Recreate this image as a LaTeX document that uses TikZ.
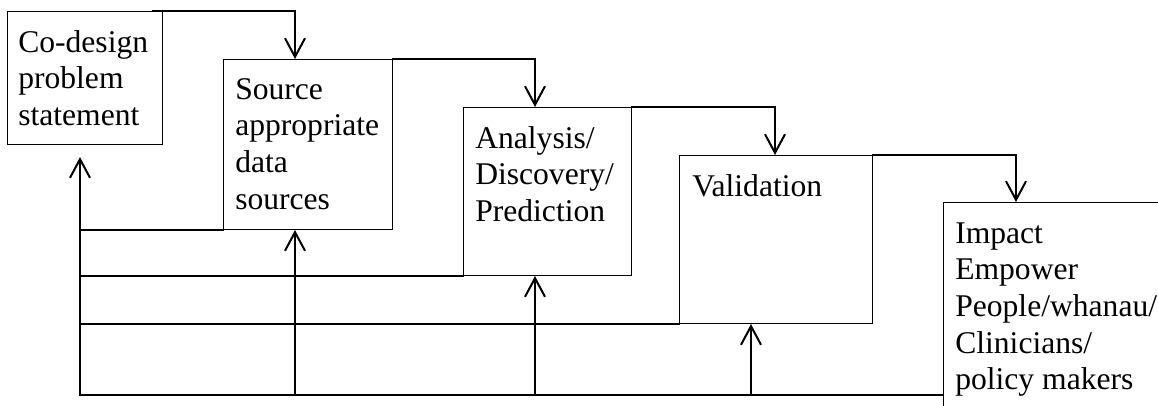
\documentclass[tikz,border=0pt]{standalone}
\usepackage{fontspec}
\setmainfont{Liberation Serif}
\usetikzlibrary{arrows.meta,calc}
\begin{document}
\begin{tikzpicture}[x=0.75pt,y=-0.75pt,
  stage/.style={draw=black,line width=0.75pt,inner sep=0pt,anchor=north west},
  label/.style={inner sep=0pt,anchor=base west,font=\fontsize{23.7}{27.5}\selectfont},
  conn/.style={line width=1.7pt,line cap=rect},
  arr/.style={conn,-{Straight Barb[length=14pt,width=15pt,line width=1.5pt]}}]
\useasboundingbox (0,0) rectangle (1158,405);
\clip (0,0) rectangle (1158,405);
% boxes
\node[stage,minimum width=155*0.75pt,minimum height=133*0.75pt] (b1) at (7,11) {};
\node[stage,minimum width=169*0.75pt,minimum height=170*0.75pt] (b2) at (223,59) {};
\node[stage,minimum width=168*0.75pt,minimum height=168*0.75pt] (b3) at (463,107) {};
\node[stage,minimum width=193*0.75pt,minimum height=168*0.75pt] (b4) at (679,155) {};
\node[stage,minimum width=260*0.75pt,minimum height=250*0.75pt] (b5) at (943,202) {};
% texts
\node[label] (t1) at (18,52) {\begin{tabular}[t]{@{}l@{}}Co-design\\problem\\statement\end{tabular}};
\node[label] (t2) at (235,99) {\begin{tabular}[t]{@{}l@{}}Source\\appropriate\\data\\sources\end{tabular}};
\node[label] (t3) at (475,148) {\begin{tabular}[t]{@{}l@{}}Analysis/\\Discovery/\\Prediction\end{tabular}};
\node[label] (t4) at (692,196) {Validation};
\node[label] (t5) at (955,243) {\begin{tabular}[t]{@{}l@{}}Impact\\Empower\\People/whanau/\\Clinicians/\\policy makers\end{tabular}};
% forward connectors
\draw[arr] ($(b1.north east)+(-10,0)$) -| ($(b2.north west)+(72,0)$);
\draw[arr] (b2.north east) -| ($(b3.north west)+(72,0)$);
\draw[arr] (b3.north east) -| ($(b4.north west)+(96,0)$);
\draw[arr] (b4.north east) -| ($(b5.north west)+(73,0)$);
% feedback
\coordinate (fb) at (80,395);
\draw[arr] (fb) -- ($(b1.south west)+(73,12)$);
\draw[conn] (b2.south west) -- (b2.south west -| fb);
\draw[conn] (b3.south west) -- (b3.south west -| fb);
\draw[conn] (b4.south west) -- (b4.south west -| fb);
\draw[conn] (fb) -- (fb -| b5.west);
\draw[arr] (fb -| {$(b2.south west)+(72,0)$}) -- ($(b2.south west)+(72,0)$);
\draw[arr] (fb -| {$(b3.south west)+(72,0)$}) -- ($(b3.south west)+(72,0)$);
\draw[arr] (fb -| {$(b4.south west)+(72,0)$}) -- ($(b4.south west)+(72,0)$);
\end{tikzpicture}
\end{document}
